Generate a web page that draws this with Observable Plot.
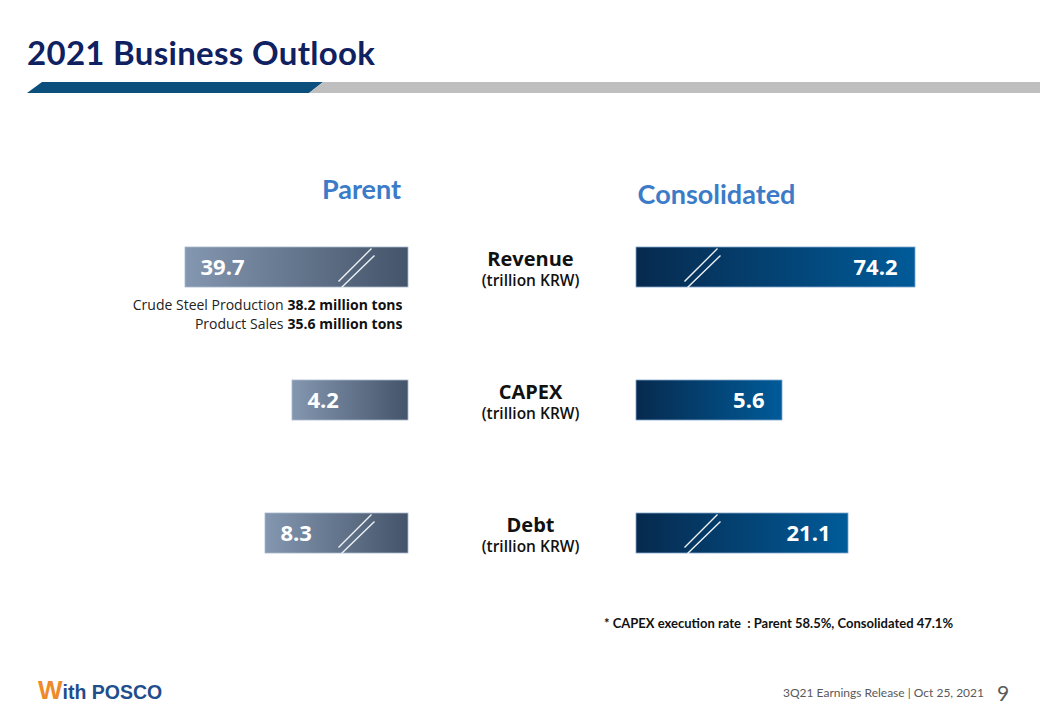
<!DOCTYPE html>
<html>
<head>
<meta charset="utf-8">
<script src="https://cdn.jsdelivr.net/npm/d3@7"></script>
<script src="https://cdn.jsdelivr.net/npm/@observablehq/plot@0.6"></script>
<style>
  body { margin: 0; background: #fff; }
  #page { position: relative; width: 1040px; height: 720px; overflow: hidden; background: #fff; font-family: "Open Sans", sans-serif; }
  .abs { position: absolute; white-space: pre; }
  #title { left: 27px; top: 34px; font: 700 33px Lato, sans-serif; letter-spacing: 0.3px; color: #0f2160; line-height: 36px; }
  #stripeBlue { left: 27px; top: 82px; width: 296px; height: 11px; background: #0b4f7c; clip-path: polygon(15px 0, 296px 0, 282px 100%, 0 100%); }
  #stripeGray { left: 309px; top: 82px; width: 731px; height: 11px; background: #bfbfbf; clip-path: polygon(14px 0, 100% 0, 100% 100%, 0 100%); }
  .chart { position: absolute; left: 0; top: 150px; }
  #footnote { left: 604px; top: 615px; font: 700 13px Lato, sans-serif; color: #111; }
  #logo { left: 38px; top: 675px; font: 700 19.5px "Liberation Sans", Arial, sans-serif; color: #1f4e8c; }
  #logo .w { color: #ef8a2a; font-size: 26px; }
  #release { left: 783px; top: 685px; font: 400 12px Lato, sans-serif; color: #595959; }
  #pageNo { left: 997px; top: 680px; font: 400 21px Lato, sans-serif; color: #595959; }
</style>
</head>
<body>
<div id="page">
  <div id="title" class="abs"></div>
  <div id="stripeBlue" class="abs"></div>
  <div id="stripeGray" class="abs"></div>
  <div id="chartParent" class="chart"></div>
  <div id="chartCons" class="chart"></div>
  <div id="footnote" class="abs"></div>
  <div id="logo" class="abs"><span class="w">W</span>ith POSCO</div>
  <div id="release" class="abs"></div>
  <div id="pageNo" class="abs"></div>
</div>
<script>
// ---- data ----
const titleText = "2021 Business Outlook";
const headers = ["Parent", "Consolidated"];
const metrics = ["Revenue", "CAPEX", "Debt"];
const unitLabel = "(trillion KRW)";
const parentValues = [39.7, 4.2, 8.3];
const consolidatedValues = [74.2, 5.6, 21.1];
const parentBroken = [true, false, true];
const consolidatedBroken = [true, false, true];
const noteLabels = ["Crude Steel Production", "Product Sales"];
const noteValues = [38.2, 35.6];
const noteUnit = "million tons";
const capexRateParent = 58.5;
const capexRateConsolidated = 47.1;
const releaseText = "3Q21 Earnings Release | Oct 25, 2021";
const pageNumber = "9";

document.getElementById("title").textContent = titleText;
document.getElementById("footnote").textContent =
  `* CAPEX execution rate  : ${headers[0]} ${capexRateParent}%, ${headers[1]} ${capexRateConsolidated}%`;
document.getElementById("release").textContent = releaseText;
document.getElementById("pageNo").textContent = pageNumber;

const rows = metrics.map((m, i) => ({
  metric: m,
  parent: parentValues[i],
  consolidated: consolidatedValues[i],
  parentBroken: parentBroken[i],
  consolidatedBroken: consolidatedBroken[i]
}));

// gradient defs as a custom mark
function gradient(id, c0, c1) {
  return () => {
    const defs = d3.create("svg:defs");
    const g = defs.append("linearGradient").attr("id", id)
      .attr("x1", 0).attr("x2", 1).attr("y1", 0).attr("y2", 0);
    g.append("stop").attr("offset", "0%").attr("stop-color", c0);
    g.append("stop").attr("offset", "100%").attr("stop-color", c1);
    return defs.node();
  };
}

// scale-break glyph (double slash)
const breakSymbol = {
  draw(ctx) {
    ctx.moveTo(-18, 14); ctx.lineTo(15, -19);
    ctx.moveTo(-15, 20); ctx.lineTo(18, -12);
  }
};

const W = 1040, H = 430;
const yScale = { domain: metrics, range: [96, 403], paddingInner: 0.7, paddingOuter: 0, axis: null };
const common = {
  width: W, height: H,
  marginTop: 0, marginRight: 0, marginBottom: 0, marginLeft: 0,
  style: { background: "transparent", overflow: "visible", fontFamily: "'Open Sans', sans-serif" }
};

// ---- Parent side (bars grow leftwards, broken scale) ----
const parentPlot = Plot.plot({
  ...common,
  x: { type: "linear", domain: [0, ...d3.sort(parentValues)], range: [408, 292, 265, 185], axis: null },
  y: yScale,
  marks: [
    gradient("gradParent", "#8497b0", "#44546a"),
    Plot.text([headers[0]], { text: d => d, frameAnchor: "top", dx: -159, dy: 40, lineAnchor: "middle",
      fontSize: 27, fontWeight: 700, fill: "#3b7bc8", fontFamily: "Lato, sans-serif" }),
    Plot.barX(rows, { y: "metric", x: "parent", fill: "url(#gradParent)", stroke: "#a9b7ca", strokeWidth: 0.8 }),
    Plot.dot(rows.filter(d => d.parentBroken), { y: "metric", x: () => 0, dx: -52, symbol: breakSymbol,
      fill: "none", stroke: "#eef2f7", strokeWidth: 1.4 }),
    Plot.text(rows, { y: "metric", x: "parent", text: d => d.parent.toFixed(1), textAnchor: "start", dx: 15,
      fill: "white", fontSize: 22, fontWeight: 700 }),
    // center labels
    Plot.text(rows, { y: "metric", text: "metric", frameAnchor: "middle", dx: 10, dy: -8,
      fontSize: 20, fontWeight: 700, fill: "#111" }),
    Plot.text(rows, { y: "metric", text: () => unitLabel, frameAnchor: "middle", dx: 10, dy: 14,
      fontSize: 15.5, fontWeight: 600, fill: "#111" }),
    // notes under revenue
    Plot.text([noteLabels.join("\n")], { y: () => metrics[0], x: () => 0, text: d => d, textAnchor: "end",
      dx: -125, dy: 45.5, lineHeight: 1.36, fontSize: 14, fill: "#222" }),
    Plot.text([noteValues.map(v => `${v} ${noteUnit}`).join("\n")], { y: () => metrics[0], x: () => 0, text: d => d,
      textAnchor: "end", dx: -6, dy: 45.5, lineHeight: 1.36, fontSize: 14, fontWeight: 700, fill: "#111" })
  ]
});
document.getElementById("chartParent").append(parentPlot);

// ---- Consolidated side (bars grow rightwards, broken scale) ----
const consPlot = Plot.plot({
  ...common,
  x: { type: "linear", domain: [0, ...d3.sort(consolidatedValues)], range: [636, 782, 848, 915], axis: null },
  y: yScale,
  marks: [
    gradient("gradCons", "#072a4e", "#005b99"),
    Plot.text([headers[1]], { text: d => d, frameAnchor: "top", dx: 196, dy: 45, lineAnchor: "middle",
      fontSize: 27, fontWeight: 700, fill: "#3b7bc8", fontFamily: "Lato, sans-serif" }),
    Plot.barX(rows, { y: "metric", x: "consolidated", fill: "url(#gradCons)", stroke: "#7fa6cc", strokeWidth: 0.8 }),
    Plot.dot(rows.filter(d => d.consolidatedBroken), { y: "metric", x: () => 0, dx: 66, symbol: breakSymbol,
      fill: "none", stroke: "#eef2f7", strokeWidth: 1.4 }),
    Plot.text(rows, { y: "metric", x: "consolidated", text: d => d.consolidated.toFixed(1), textAnchor: "end", dx: -18,
      fill: "white", fontSize: 22, fontWeight: 700 })
  ]
});
document.getElementById("chartCons").append(consPlot);
</script>
</body>
</html>
